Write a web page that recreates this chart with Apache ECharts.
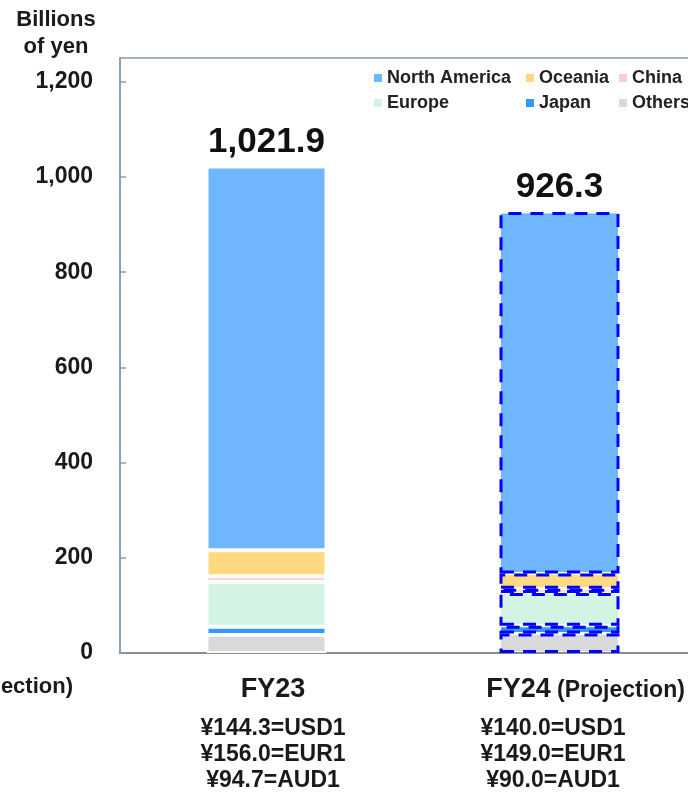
<!DOCTYPE html>
<html>
<head>
<meta charset="utf-8">
<script src="https://cdn.jsdelivr.net/npm/echarts@6/dist/echarts.min.js"></script>
<style>
  html, body { margin: 0; padding: 0; background: #ffffff; }
  #chart { width: 688px; height: 793px; }
</style>
</head>
<body>
<div id="chart"></div>
<script>
// Fiscal years on the category axis
const categories = ['FY23', 'FY24'];
const categoryNotes = ['', '(Projection)'];
const isProjection = [false, true];

// Exchange-rate assumptions printed under each year
const usdRates = ['¥144.3=USD1', '¥140.0=USD1'];
const eurRates = ['¥156.0=EUR1', '¥149.0=EUR1'];
const audRates = ['¥94.7=AUD1', '¥90.0=AUD1'];

// Regional sales, billions of yen (stacked from the bottom up)
const others = [38, 41];
const japan = [17, 16];
const europe = [94, 69];
const china = [12, 9];
const oceania = [55, 32];
const northAmerica = [805.9, 759.3];

// Value axis
const yMin = 0;
const yMax = 1250;
const yInterval = 200;

const FONT = '"Liberation Sans", Arial, sans-serif';
const INK = '#1a1a1a';

const regions = [
  { name: 'Others', values: others, color: '#D9D9D9' },
  { name: 'Japan', values: japan, color: '#3399FF' },
  { name: 'Europe', values: europe, color: '#D3F4E2' },
  { name: 'China', values: china, color: '#FFCDCD' },
  { name: 'Oceania', values: oceania, color: '#FFD97F' },
  { name: 'North America', values: northAmerica, color: '#6FB6FF' }
];

function stackTotal(i) {
  return regions.reduce((s, r) => s + r.values[i], 0);
}

function withCommas(v, digits) {
  return v.toFixed(digits).replace(/\B(?=(\d{3})+(?!\d))/g, ',');
}

const actualStyle = { borderColor: '#ffffff', borderWidth: 2 };
const projectionStyle = { borderColor: '#0000FF', borderWidth: 3, borderType: [13, 9] };

const series = regions.map((r, k) => ({
  name: r.name,
  type: 'bar',
  stack: 'sales',
  barWidth: 120,
  itemStyle: { color: r.color },
  emphasis: { disabled: true },
  data: r.values.map((v, i) => ({
    value: v,
    itemStyle: isProjection[i] ? projectionStyle : actualStyle
  })),
  label: k === regions.length - 1 ? {
    show: true,
    position: 'top',
    distance: 7,
    fontFamily: FONT,
    fontSize: 35,
    fontWeight: 'bold',
    color: '#111',
    formatter: p => withCommas(stackTotal(p.dataIndex), 1)
  } : { show: false }
}));

const legendText = { fontFamily: FONT, fontSize: 18, fontWeight: 'bold', color: '#222', lineHeight: 20 };
function legendColumn(names, left) {
  return {
    data: names,
    orient: 'vertical',
    left: left,
    top: 68,
    padding: 0,
    itemGap: 5,
    itemWidth: 8,
    itemHeight: 8,
    icon: 'rect',
    selectedMode: false,
    textStyle: legendText
  };
}

const chart = echarts.init(document.getElementById('chart'), null, { renderer: 'canvas' });

chart.setOption({
  animation: false,
  backgroundColor: '#ffffff',
  textStyle: { fontFamily: FONT },
  grid: {
    left: 120,
    top: 58,
    width: 586,
    height: 595,
    containLabel: false,
    outerBoundsMode: 'none',
    show: true,
    backgroundColor: 'transparent',
    borderColor: '#8A99AE',
    borderWidth: 1.5
  },
  legend: [
    legendColumn(['North America', 'Europe'], 374),
    legendColumn(['Oceania', 'Japan'], 526),
    legendColumn(['China', 'Others'], 619)
  ],
  xAxis: [
    {
      type: 'category',
      data: categories,
      axisLine: { show: true, lineStyle: { color: '#8C8C8C', width: 2 } },
      axisTick: { show: false },
      axisLabel: {
        margin: 16,
        interval: 0,
        formatter: (v, i) => categoryNotes[i]
          ? '{sp2| }{name|' + v + '}{note| ' + categoryNotes[i] + '}'
          : '{sp1| }{name|' + v + '}',
        rich: {
          name: { fontFamily: FONT, fontSize: 27, fontWeight: 'bold', color: INK, lineHeight: 34, verticalAlign: 'bottom' },
          note: { fontFamily: FONT, fontSize: 23, fontWeight: 'bold', color: INK, verticalAlign: 'bottom', padding: [0, 0, 1, 0] },
          sp1: { width: 13, fontSize: 10 },
          sp2: { width: 52, fontSize: 10 }
        }
      }
    },
    {
      type: 'category',
      data: categories,
      position: 'bottom',
      axisLine: { show: false },
      axisTick: { show: false },
      axisLabel: {
        margin: 63,
        interval: 0,
        formatter: (v, i) => {
          const lines = [usdRates[i], eurRates[i], audRates[i]];
          return lines.map(t => isProjection[i]
            ? '{rate|' + t + '}{spr| }'
            : '{spl| }{rate|' + t + '}').join('\n');
        },
        rich: {
          rate: { fontFamily: FONT, fontSize: 23, fontWeight: 'bold', color: INK, lineHeight: 26 },
          spl: { width: 13, fontSize: 10, lineHeight: 26 },
          spr: { width: 13, fontSize: 10, lineHeight: 26 }
        }
      }
    }
  ],
  yAxis: {
    type: 'value',
    min: yMin,
    max: yMax,
    interval: yInterval,
    axisLine: { show: true, lineStyle: { color: '#8A99AE', width: 1.5 } },
    axisTick: { show: true, inside: true, length: 6, lineStyle: { color: '#8A99AE', width: 1.5 } },
    splitLine: { show: false },
    axisLabel: {
      margin: 27,
      showMaxLabel: false,
      fontFamily: FONT,
      fontSize: 23,
      fontWeight: 'bold',
      color: INK,
      formatter: v => withCommas(v, 0)
    }
  },
  graphic: [
    {
      type: 'text',
      x: 56,
      y: 6,
      style: {
        text: 'Billions\nof yen',
        align: 'center',
        verticalAlign: 'top',
        font: 'bold 22px ' + FONT,
        lineHeight: 27,
        fill: INK
      }
    },
    {
      type: 'text',
      x: 73,
      y: 687,
      style: {
        text: '(Projection)',
        align: 'right',
        verticalAlign: 'middle',
        font: 'bold 22px ' + FONT,
        fill: INK
      }
    }
  ],
  series: series
});
</script>
</body>
</html>
